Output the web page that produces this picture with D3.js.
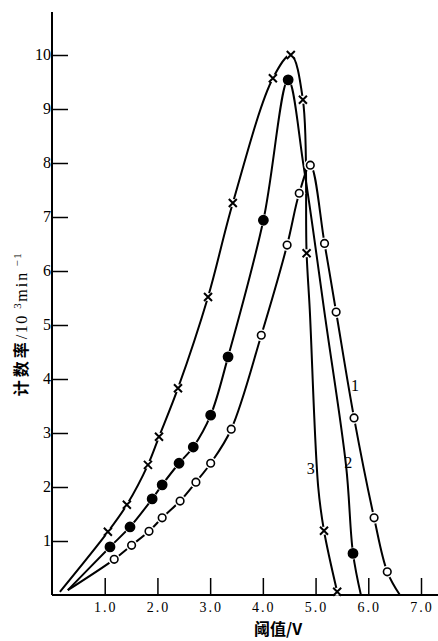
<!DOCTYPE html>
<html>
<head>
<meta charset="utf-8">
<script src="https://cdn.jsdelivr.net/npm/d3@7"></script>
<style>
  body { margin: 0; background: #fff; }
  svg { display: block; }
</style>
</head>
<body>
<div id="chart"></div>
<script>
// [x (V), y (10^3 min^-1), marker?]
const curve1 = [
  [0.30, 0.09, 0], [1.18, 0.66, 1], [1.51, 0.92, 1], [1.84, 1.18, 1], [2.09, 1.43, 1],
  [2.43, 1.74, 1], [2.73, 2.09, 1], [3.01, 2.44, 1], [3.40, 3.07, 1], [3.97, 4.81, 1],
  [4.46, 6.48, 1], [4.69, 7.44, 1], [4.90, 7.96, 1], [5.17, 6.51, 1], [5.39, 5.24, 1],
  [5.73, 3.28, 1], [6.11, 1.43, 1], [6.36, 0.43, 1], [6.60, 0.00, 0]
];
const curve2 = [
  [0.30, 0.09, 0], [1.10, 0.89, 1], [1.48, 1.26, 1], [1.90, 1.78, 1], [2.09, 2.04, 1],
  [2.41, 2.44, 1], [2.68, 2.74, 1], [3.01, 3.33, 1], [3.34, 4.41, 1], [4.01, 6.94, 1],
  [4.48, 9.54, 1], [4.78, 7.90, 0], [5.19, 5.09, 0], [5.58, 2.38, 0], [5.71, 0.77, 1],
  [5.86, 0.00, 0]
];
const curve3 = [
  [0.15, 0.06, 0], [1.06, 1.17, 1], [1.42, 1.67, 1], [1.82, 2.41, 1], [2.03, 2.93, 1],
  [2.39, 3.83, 1], [2.96, 5.52, 1], [3.43, 7.26, 1], [4.19, 9.57, 1], [4.53, 10.0, 1],
  [4.76, 9.17, 1], [4.83, 6.33, 1], [4.89, 5.28, 0], [5.05, 2.00, 0], [5.16, 1.19, 1],
  [5.41, 0.06, 1]
];
const curveLabels = [['1', 5.75, 3.89], ['2', 5.62, 2.46], ['3', 4.91, 2.35]];
const xTicks = [1, 2, 3, 4, 5, 6, 7];
const yTicks = [1, 2, 3, 4, 5, 6, 7, 8, 9, 10];

const width = 438;
const height = 641;

const svg = d3.select('#chart')
  .append('svg')
  .attr('width', width)
  .attr('height', height)
  .attr('viewBox', [0, 0, width, height]);

const x = d3.scaleLinear().domain([0, 7]).range([52, 421]);
const y = d3.scaleLinear().domain([0, 10]).range([595, 55]);

// axes
const xAxisG = svg.append('g')
  .attr('transform', `translate(0,${y(0)})`)
  .call(d3.axisTop(x).tickValues(xTicks).tickSize(17).tickFormat(''));
xAxisG.select('.domain').attr('d', `M${x(0)},0H${width}`).attr('stroke-width', 2);
xAxisG.selectAll('.tick line').attr('stroke-width', 1.5);

const yAxisG = svg.append('g')
  .attr('transform', `translate(${x(0)},0)`)
  .call(d3.axisRight(y).tickValues(yTicks).tickSize(16).tickFormat(''));
yAxisG.select('.domain').attr('d', `M0,${y(0)}V12`).attr('stroke-width', 2);
yAxisG.selectAll('.tick line').attr('stroke-width', 1.5);

// tick labels
svg.append('g').selectAll('text')
  .data(xTicks)
  .join('text')
  .attr('x', d => x(d) + 1)
  .attr('y', 612)
  .attr('text-anchor', 'middle')
  .attr('font-family', 'Liberation Serif')
  .attr('font-size', 14)
  .attr('letter-spacing', 2)
  .text(d => d.toFixed(1));

svg.append('g').selectAll('text')
  .data(yTicks)
  .join('text')
  .attr('x', x(0) - 1)
  .attr('y', d => y(d) + 5)
  .attr('text-anchor', 'end')
  .attr('font-family', 'Liberation Serif')
  .attr('font-size', 16)
  .text(d => d);

// axis titles
svg.append('text')
  .attr('x', 278)
  .attr('y', 635)
  .attr('text-anchor', 'middle')
  .attr('font-family', 'Noto Sans CJK SC')
  .attr('font-weight', 'bold')
  .attr('font-size', 16)
  .text('阈值/V');

const yTitle = svg.append('text')
  .attr('transform', 'translate(27,324) rotate(-90)')
  .attr('text-anchor', 'middle')
  .attr('font-size', 16)
  .attr('letter-spacing', 1.5);
yTitle.append('tspan').attr('font-family', 'Noto Sans CJK SC').attr('font-weight', 'bold').attr('letter-spacing', 3).text('计数率');
yTitle.append('tspan').attr('font-family', 'Liberation Serif').text('/10 ');
yTitle.append('tspan').attr('font-family', 'Liberation Serif').attr('font-size', 11).attr('dy', -6).text('3');
yTitle.append('tspan').attr('font-family', 'Liberation Serif').attr('dy', 6).attr('letter-spacing', 2).text('min');
yTitle.append('tspan').attr('font-family', 'Liberation Serif').attr('font-size', 11).attr('dy', -6).text(' −1');

// lines
const line = d3.line()
  .x(d => x(d[0]))
  .y(d => y(d[1]))
  .curve(d3.curveCatmullRom.alpha(0.5));

const series = [
  { data: curve1, mark: 'open' },
  { data: curve2, mark: 'filled' },
  { data: curve3, mark: 'cross' }
];

series.forEach(s => {
  svg.append('path')
    .attr('fill', 'none')
    .attr('stroke', '#000')
    .attr('stroke-width', 2)
    .attr('d', line(s.data));
});

// markers, white halo cuts a gap in the line
series.forEach(s => {
  const pts = s.data.filter(d => d[2]);
  const g = svg.append('g');
  g.selectAll('circle.halo')
    .data(pts)
    .join('circle')
    .attr('class', 'halo')
    .attr('cx', d => x(d[0]))
    .attr('cy', d => y(d[1]))
    .attr('r', s.mark === 'cross' ? 4 : 6)
    .attr('fill', '#fff');
  if (s.mark === 'cross') {
    g.selectAll('path.m')
      .data(pts)
      .join('path')
      .attr('class', 'm')
      .attr('transform', d => `translate(${x(d[0])},${y(d[1])})`)
      .attr('d', 'M-4,-4L4,4M-4,4L4,-4')
      .attr('stroke', '#000')
      .attr('stroke-width', 2);
  } else {
    g.selectAll('circle.m')
      .data(pts)
      .join('circle')
      .attr('class', 'm')
      .attr('cx', d => x(d[0]))
      .attr('cy', d => y(d[1]))
      .attr('r', s.mark === 'open' ? 3.8 : 4.6)
      .attr('fill', s.mark === 'open' ? '#fff' : '#000')
      .attr('stroke', '#000')
      .attr('stroke-width', 1.6);
  }
});

// curve numbers
svg.append('g').selectAll('text')
  .data(curveLabels)
  .join('text')
  .attr('x', d => x(d[1]))
  .attr('y', d => y(d[2]) + 6)
  .attr('text-anchor', 'middle')
  .attr('font-family', 'Liberation Serif')
  .attr('font-size', 16)
  .text(d => d[0]);
</script>
</body>
</html>
